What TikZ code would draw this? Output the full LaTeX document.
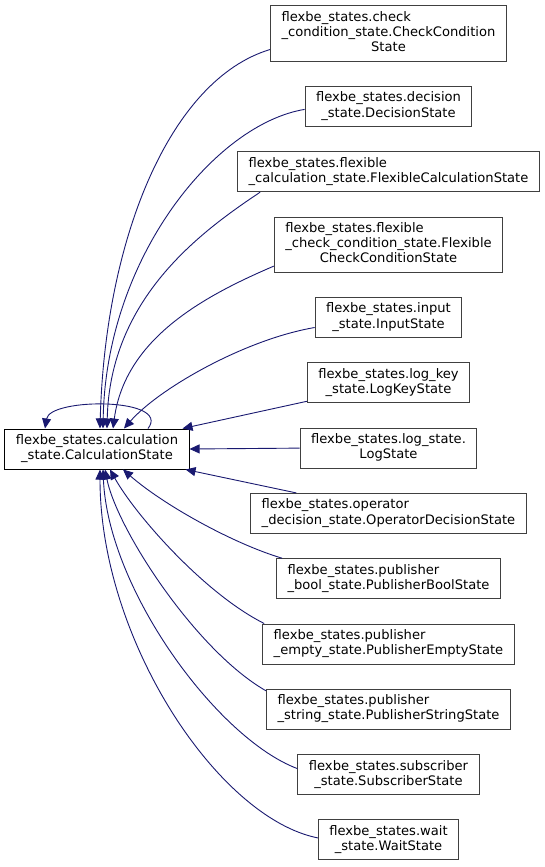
\documentclass[tikz,border=0pt]{standalone}
\usepackage{fontspec}
\setmainfont{DejaVu Sans}
\usepackage{tikz}
\usetikzlibrary{positioning,arrows.meta}
\usepackage{xcolor}
\definecolor{edgeblue}{HTML}{191970}
\definecolor{boxgray}{HTML}{404040}
\newcommand{\dxlabel}[2]{\begin{tabular}{@{}l@{}}#1\\\multicolumn{1}{@{}c@{}}{#2}\end{tabular}}

\begin{document}
\begin{tikzpicture}[
    x=1bp, y=-1bp,
    cls/.style={rectangle, draw=boxgray, line width=1bp, fill=white,
                inner xsep=11bp, inner ysep=4.8bp,
                font=\fontsize{13.1bp}{15.2bp}\selectfont},
    base/.style={cls, draw=black},
    inh/.style={-{Triangle[length=10bp,width=9bp]}, draw=edgeblue, line width=0.9bp}
]
    \useasboundingbox (0,0) rectangle (545,867);

    % base class
    \node[base] (calc) at (97,449) {\dxlabel{flexbe\_states.calculation}{\_state.CalculationState}};

    % derived classes
    \node[cls] (chk) at (388.5,33.5) {\dxlabel{flexbe\_states.check\\\_condition\_state.CheckCondition}{State}};
    \node[cls, below=24.3bp of chk] (dec) {\dxlabel{flexbe\_states.decision}{\_state.DecisionState}};
    \node[cls, below=24.3bp of dec] (fcalc) {\dxlabel{flexbe\_states.flexible}{\_calculation\_state.FlexibleCalculationState}};
    \node[cls, below=24.3bp of fcalc] (fchk) {\dxlabel{flexbe\_states.flexible\\\_check\_condition\_state.Flexible}{CheckConditionState}};
    \node[cls, below=24.3bp of fchk] (inp) {\dxlabel{flexbe\_states.input}{\_state.InputState}};
    \node[cls, below=24.3bp of inp] (lkey) {\dxlabel{flexbe\_states.log\_key}{\_state.LogKeyState}};
    \node[cls, below=24.3bp of lkey] (lstate) {\dxlabel{flexbe\_states.log\_state.}{LogState}};
    \node[cls, below=24.3bp of lstate] (oper) {\dxlabel{flexbe\_states.operator}{\_decision\_state.OperatorDecisionState}};
    \node[cls, below=24.3bp of oper] (pbool) {\dxlabel{flexbe\_states.publisher}{\_bool\_state.PublisherBoolState}};
    \node[cls, below=24.3bp of pbool] (pempty) {\dxlabel{flexbe\_states.publisher}{\_empty\_state.PublisherEmptyState}};
    \node[cls, below=24.3bp of pempty] (pstr) {\dxlabel{flexbe\_states.publisher}{\_string\_state.PublisherStringState}};
    \node[cls, below=24.3bp of pstr] (subs) {\dxlabel{flexbe\_states.subscriber}{\_state.SubscriberState}};
    \node[cls, below=24.3bp of subs] (waitst) {\dxlabel{flexbe\_states.wait}{\_state.WaitState}};

    % inheritance edges
    \draw[inh] ([yshift=-16bp]chk.west) .. controls +(-100,30) and +(5,-190) .. ([xshift=3bp]calc.north);
    \draw[inh] ([yshift=-3bp]dec.west) .. controls +(-90,15) and +(3,-170) .. ([xshift=6bp]calc.north);
    \draw[inh] ([xshift=23bp]fcalc.south west) .. controls +(-60,40) and +(3,-130) .. ([xshift=10bp]calc.north);
    \draw[inh] ([yshift=-21.5bp]fchk.west) .. controls +(-70,30) and +(12,-90) .. ([xshift=16bp]calc.north);
    \draw[inh] ([yshift=-10bp]inp.west) .. controls +(-70,12) and +(35,-40) .. ([xshift=27bp]calc.north);
    \draw[inh] ([yshift=2bp]lkey.south west) -- ([xshift=-7bp]calc.north east);
    \draw[inh] (lstate.west) -- (calc.east);
    \draw[inh] ([xshift=46bp]oper.north west) -- ([xshift=-4bp]calc.south east);
    \draw[inh] ([xshift=6bp]pbool.north west) .. controls +(-50,-15) and +(40,35) .. ([xshift=26bp]calc.south);
    \draw[inh] ([xshift=2bp]pempty.north west) .. controls +(-60,-30) and +(25,45) .. ([xshift=13bp]calc.south);
    \draw[inh] ([yshift=-2bp]pstr.north west) .. controls +(-70,-40) and +(12,60) .. ([xshift=8bp]calc.south);
    \draw[inh] ([yshift=6bp]subs.west) .. controls +(-80,-30) and +(5,120) .. ([xshift=6bp]calc.south);
    \draw[inh] ([yshift=2bp]waitst.west) .. controls +(-100,-20) and +(0,170) .. ([xshift=3bp]calc.south);
    % self loop
    \draw[inh] ([xshift=51bp]calc.north) .. controls +(24,-31) and +(5,-31) .. ([xshift=-52bp]calc.north);
\end{tikzpicture}
\end{document}
